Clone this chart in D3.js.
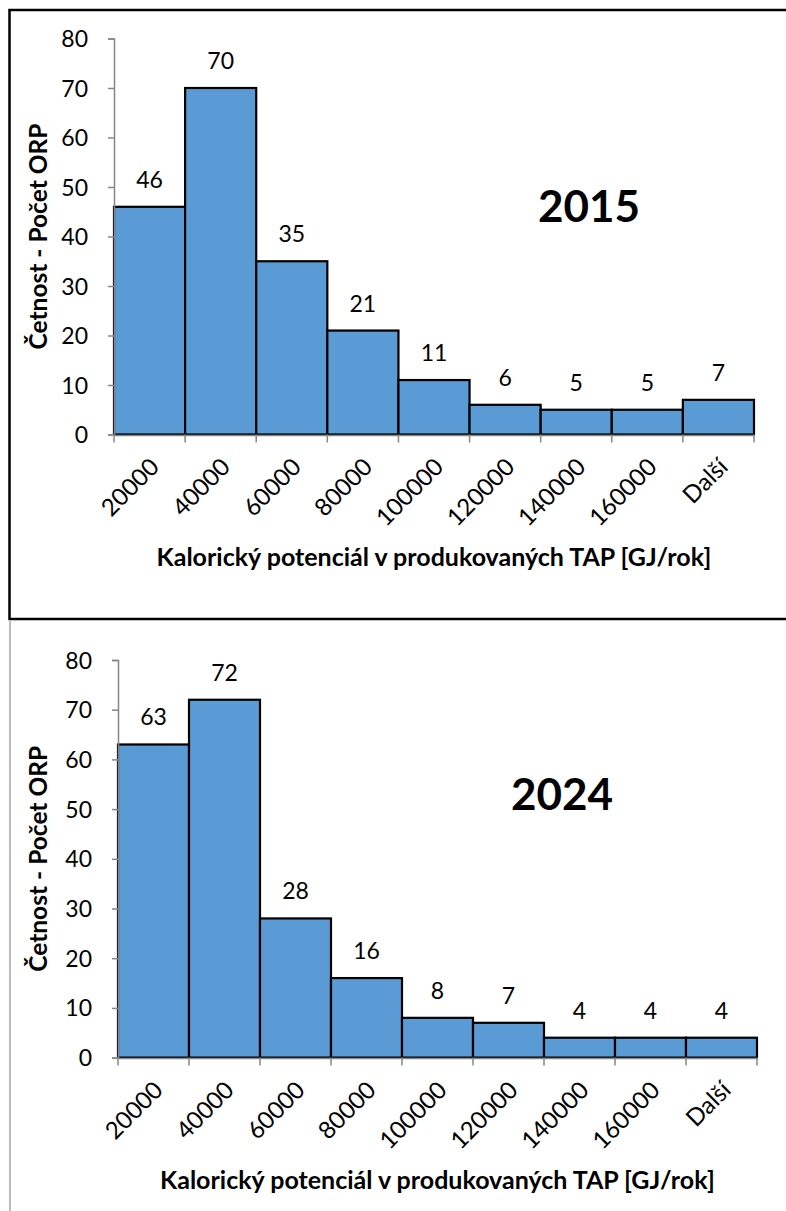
<!DOCTYPE html>
<html>
<head>
<meta charset="utf-8">
<script src="https://cdn.jsdelivr.net/npm/d3@7/dist/d3.min.js"></script>
<style>
  html, body { margin: 0; padding: 0; background: #fff; }
  svg { display: block; }
  text { font-family: Lato, "Open Sans", sans-serif; fill: #000; }
</style>
</head>
<body>
<svg id="chart" width="786" height="1211"></svg>
<script>
// ---- data ----
const categories = ["20000", "40000", "60000", "80000", "100000", "120000", "140000", "160000", "Další"];
const values2015 = [46, 70, 35, 21, 11, 6, 5, 5, 7];
const values2024 = [63, 72, 28, 16, 8, 7, 4, 4, 4];
const yTicks = [0, 10, 20, 30, 40, 50, 60, 70, 80];
const xTitle = "Kalorický potenciál v produkovaných TAP [GJ/rok]";
const yTitle = "Četnost - Počet ORP";

const svg = d3.select("#chart");

// chart frames
svg.append("rect").attr("x", 9.5).attr("y", 10).attr("width", 800).attr("height", 609)
  .attr("fill", "none").attr("stroke", "#000").attr("stroke-width", 2.5);
svg.append("line").attr("x1", 10).attr("x2", 10).attr("y1", 621).attr("y2", 1211)
  .attr("stroke", "#a6a6a6").attr("stroke-width", 1.5);

function drawChart(cfg) {
  const g = svg.append("g");
  const x = d3.scaleBand().domain(categories).range([cfg.left, cfg.right]).padding(0);
  const y = d3.scaleLinear().domain([0, 80]).range([cfg.bottom, cfg.top]);

  // bars
  g.selectAll("rect.bar").data(cfg.values).join("rect")
    .attr("class", "bar")
    .attr("x", (d, i) => x(categories[i]))
    .attr("y", d => y(d))
    .attr("width", x.bandwidth())
    .attr("height", d => y(0) - y(d))
    .attr("fill", "#5b9bd5")
    .attr("stroke", "#000")
    .attr("stroke-width", 2.2);

  // y axis
  const yAxis = d3.axisLeft(y).tickValues(yTicks).tickSize(6).tickPadding(0).tickFormat(d3.format("d"));
  const ya = g.append("g").attr("transform", `translate(${cfg.left},0)`).call(yAxis);
  ya.select(".domain").attr("stroke", "#868686").attr("stroke-width", 1.5);
  ya.selectAll(".tick line").attr("stroke", "#868686").attr("stroke-width", 1.5);
  ya.selectAll(".tick text").attr("x", -26).attr("dy", "0.35em")
    .style("font-size", "23px").style("font-family", "Lato").attr("fill", "#000");

  // x axis (ticks at bin edges)
  const edges = d3.range(categories.length + 1).map(i => cfg.left + i * x.bandwidth());
  const xa = g.append("g");
  xa.append("line").attr("x1", cfg.left).attr("x2", cfg.right)
    .attr("y1", cfg.bottom + 1).attr("y2", cfg.bottom + 1)
    .attr("stroke", "#868686").attr("stroke-width", 1.5);
  xa.selectAll("line.tk").data(edges).join("line").attr("class", "tk")
    .attr("x1", d => d).attr("x2", d => d)
    .attr("y1", cfg.bottom).attr("y2", cfg.bottom + 8)
    .attr("stroke", "#868686").attr("stroke-width", 1.5);
  xa.selectAll("text").data(categories).join("text")
    .attr("transform", d => `translate(${x(d) + x.bandwidth() / 2 + 5},${cfg.bottom + 28}) rotate(-45)`)
    .attr("text-anchor", "end")
    .attr("dy", "0.35em")
    .style("font-size", "24px")
    .text(d => d);

  // value labels
  g.selectAll("text.val").data(cfg.values).join("text")
    .attr("class", "val")
    .attr("x", (d, i) => x(categories[i]) + x.bandwidth() / 2)
    .attr("y", d => y(d) - 19)
    .attr("text-anchor", "middle")
    .style("font-size", "23px")
    .text(d => d);

  // axis titles
  g.append("text")
    .attr("x", (cfg.left + cfg.right) / 2)
    .attr("y", cfg.bottom + 131)
    .attr("text-anchor", "middle")
    .style("font-size", "25px").style("font-weight", "bold")
    .text(xTitle);
  g.append("text")
    .attr("transform", `translate(38,${(cfg.top + cfg.bottom) / 2}) rotate(-90)`)
    .attr("text-anchor", "middle").attr("dy", "0.35em")
    .style("font-size", "24.5px").style("font-weight", "bold")
    .text(yTitle);

  // year label
  g.append("text")
    .attr("x", cfg.yearX).attr("y", cfg.yearY)
    .attr("text-anchor", "middle")
    .style("font-size", "44px").style("font-weight", "bold")
    .text(cfg.year);
}

drawChart({ values: values2015, year: "2015", left: 114, right: 754, top: 38.5, bottom: 434.5, yearX: 589, yearY: 222 });
drawChart({ values: values2024, year: "2024", left: 118, right: 757, top: 660, bottom: 1057.6, yearX: 562, yearY: 810 });
</script>
</body>
</html>
